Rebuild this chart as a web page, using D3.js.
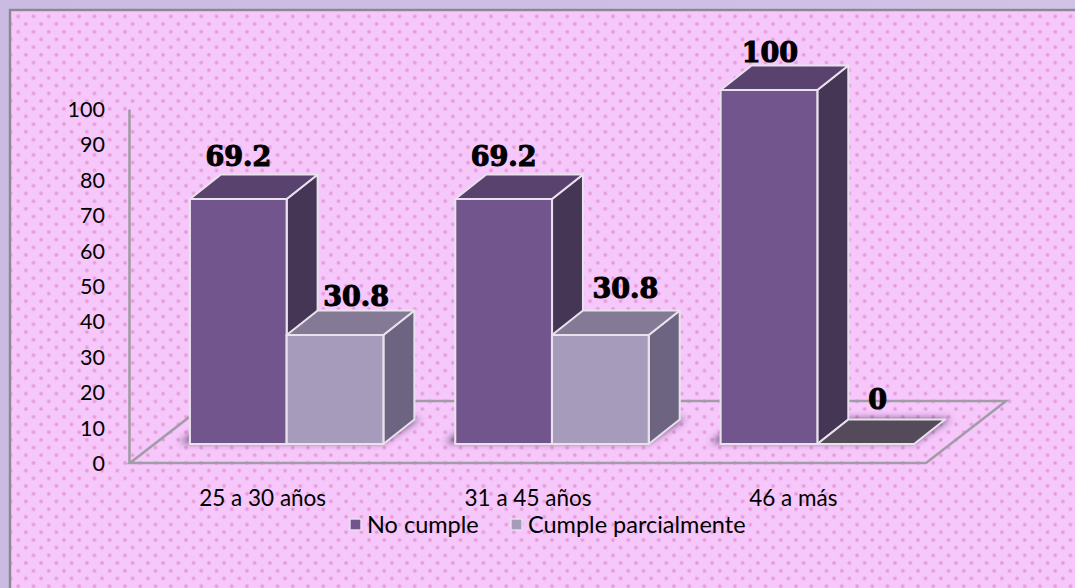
<!DOCTYPE html>
<html><head><meta charset="utf-8">
<script src="https://cdn.jsdelivr.net/npm/d3@7"></script>
<style>html,body{margin:0;padding:0;background:#cfc1e5;overflow:hidden}svg{display:block}</style>
</head><body><div id="c"></div>
<script>
const categories = ["25 a 30 años", "31 a 45 años", "46 a más"];
const seriesNames = ["No cumple", "Cumple parcialmente"];
const noCumple = [69.2, 69.2, 100];
const cumpleParcial = [30.8, 30.8, 0];
const yTicks = [0,10,20,30,40,50,60,70,80,90,100];

const W = 1075, H = 588;
const svg = d3.select("#c").append("svg").attr("width", W).attr("height", H);
const defs = svg.append("defs");

const bg = defs.append("linearGradient").attr("id","outer").attr("x1",0).attr("x2",1).attr("y1",0).attr("y2",0);
bg.append("stop").attr("offset",0).attr("stop-color","#c9bbe2");
bg.append("stop").attr("offset",1).attr("stop-color","#d1c2e6");
const dot = defs.append("radialGradient").attr("id","dot");
dot.append("stop").attr("offset",0).attr("stop-color","#e28ed0");
dot.append("stop").attr("offset",0.5).attr("stop-color","#e9a3dc");
dot.append("stop").attr("offset",1).attr("stop-color","#f6c7fb");
const pat = defs.append("pattern").attr("id","dots").attr("patternUnits","userSpaceOnUse")
  .attr("x",3).attr("y",1).attr("width",15.25).attr("height",15.4);
pat.append("rect").attr("width",15.25).attr("height",15.4).attr("fill","#f6c7fb");
pat.append("circle").attr("cx",7.6).attr("cy",7.6).attr("r",2.6).attr("fill","url(#dot)");
[[0,0],[15.25,0],[0,15.4],[15.25,15.4]].forEach(p =>
  pat.append("circle").attr("cx",p[0]).attr("cy",p[1]).attr("r",2.6).attr("fill","url(#dot)"));
defs.append("filter").attr("id","blur").attr("x","-20%").attr("y","-60%").attr("width","140%").attr("height","220%")
  .append("feGaussianBlur").attr("stdDeviation",3.5);

svg.append("rect").attr("width",W).attr("height",H).attr("fill","url(#outer)");
svg.append("rect").attr("x",10).attr("y",10).attr("width",W).attr("height",H).attr("fill","url(#dots)")
  .attr("stroke","#8c8791").attr("stroke-width",2.4);

// scales
const floorY = 463, topY = 109;
const y = d3.scaleLinear().domain([0,100]).range([floorY, topY]);
const x = d3.scaleBand().domain(categories).range([130,926]);
const xs = d3.scaleBand().domain(seriesNames).range([0,193.5]);
const floorDx = 80, floorDy = 62;      // full floor depth
const barFront = {dx:24, dy:19};       // where the front face sits on the floor
const depth = {dx:31, dy:24.5};        // bar depth
const lineCol = "#a29ca8";

// floor / walls
const g = svg.append("g");
g.append("path").attr("fill","none").attr("stroke",lineCol).attr("stroke-width",2.6)
  .attr("d", d3.line()([[130+floorDx,floorY-floorDy],[130,floorY],[926,floorY],[926+floorDx,floorY-floorDy],[130+floorDx,floorY-floorDy]]));

// y axis
const yAxis = d3.axisLeft(y).tickValues(yTicks).tickSize(0).tickPadding(24);
const ax = svg.append("g").attr("transform","translate(129,0)").call(yAxis);
ax.select(".domain").attr("stroke",lineCol).attr("stroke-width",2.6);
ax.selectAll("text").attr("font-family","Lato, sans-serif").attr("font-size",21.5).attr("fill","#000").attr("dy","0.35em");

// x labels
const xAxis = d3.axisBottom(x).tickSize(0).tickPadding(27);
const bx = svg.append("g").attr("transform",`translate(0,${floorY})`).call(xAxis);
bx.select(".domain").remove();
bx.selectAll("text").attr("font-family","Lato, sans-serif").attr("font-size",22.5).attr("fill","#000");

// bars
const palettes = [
  {front:"#72558c", side:"#463655", top:"#59436e", flat:"#544a5a"},
  {front:"#a69bbb", side:"#6c6480", top:"#857a95", flat:"#544a5a"}
];
const rows = [];
categories.forEach((c,i) => {
  rows.push({c, s:0, v:noCumple[i]});
  rows.push({c, s:1, v:cumpleParcial[i]});
});
const groupX = c => x(c) + (x.bandwidth()-xs.range()[1])/2 + barFront.dx;
const barX = d => groupX(d.c) + xs(seriesNames[d.s]);
const baseY = floorY - barFront.dy;
const barTop = d => y(d.v) - barFront.dy;

// contact shadows
categories.forEach(c => {
  const x0 = groupX(c), w = xs.range()[1];
  svg.append("path").attr("fill","#3d2a50").attr("opacity",.75).attr("filter","url(#blur)")
    .attr("d", d3.line()([[x0-10,baseY-1],[x0+w,baseY-1],[x0+w+depth.dx+6,baseY-depth.dy-1],[x0+20,baseY-depth.dy-1]]));
});

const edge = "#e9e1ec";
const bars = svg.append("g").selectAll("g").data(rows).join("g")
  .attr("stroke",edge).attr("stroke-width",2.1).attr("stroke-linejoin","round");
const bw = xs.bandwidth();
bars.filter(d=>d.v>0).append("path").attr("fill",d=>palettes[d.s].side)
  .attr("d",d=>{const X=barX(d)+bw,T=barTop(d);return d3.line()([[X,T],[X+depth.dx,T-depth.dy],[X+depth.dx,baseY-depth.dy],[X,baseY]])+"Z";});
bars.append("path").attr("fill",d=>d.v>0?palettes[d.s].top:palettes[d.s].flat)
  .attr("d",d=>{const X=barX(d),T=barTop(d);return d3.line()([[X,T],[X+depth.dx,T-depth.dy],[X+bw+depth.dx,T-depth.dy],[X+bw,T]])+"Z";});
bars.filter(d=>d.v>0).append("rect").attr("fill",d=>palettes[d.s].front)
  .attr("x",d=>barX(d)).attr("y",d=>barTop(d)).attr("width",bw).attr("height",d=>baseY-barTop(d));

// value labels (hand-placed in the original, hence per-label nudges)
const nudges = [[0,-33],[21,-29],[0,-33],[25,-37],[1,-28],[12,-35]];
svg.append("g").selectAll("text").data(rows).join("text")
  .attr("x",(d,i)=>barX(d)+bw/2+nudges[i][0])
  .attr("y",(d,i)=>barTop(d)+nudges[i][1])
  .attr("text-anchor","middle")
  .attr("font-family","'DejaVu Serif', serif").attr("font-weight",700).attr("font-size",27)
  .attr("fill","#000").attr("stroke","#000").attr("stroke-width",1.1)
  .text(d=>d.v);

// legend
const legX = d3.scaleOrdinal().domain(seriesNames).range([350,511]);
const leg = svg.append("g").selectAll("g").data(seriesNames).join("g")
  .attr("transform",d=>`translate(${legX(d)},519)`);
leg.append("rect").attr("width",11).attr("height",11).attr("stroke",edge).attr("stroke-width",1.4)
  .attr("fill",(d,i)=>palettes[i].front);
leg.append("text").attr("x",17).attr("y",13.5).attr("font-family","Lato, sans-serif").attr("font-size",23.5)
  .attr("fill","#000").text(d=>d);
</script></body></html>
